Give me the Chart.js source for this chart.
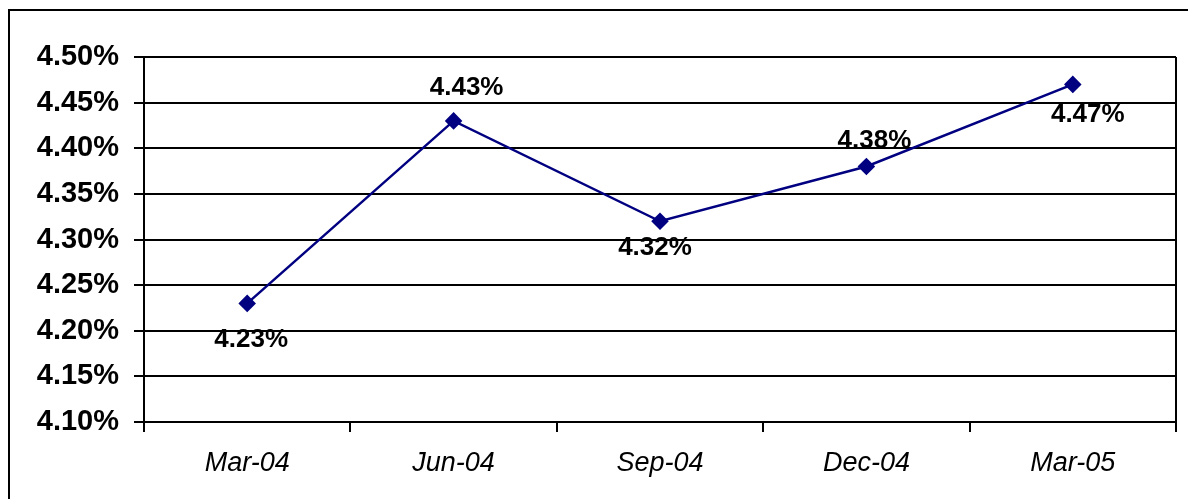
<!DOCTYPE html>
<html>
<head>
<meta charset="utf-8">
<script src="https://cdn.jsdelivr.net/npm/chart.js@4"></script>
<style>
html,body{margin:0;padding:0;background:#fff;}
#wrap{position:relative;width:1188px;height:499px;}
</style>
</head>
<body>
<div id="wrap"><canvas id="c" width="1188" height="499"></canvas></div>
<script>
const categories = ["Mar-04", "Jun-04", "Sep-04", "Dec-04", "Mar-05"];
const rates = [4.23, 4.43, 4.32, 4.38, 4.47];
const dataLabels = ["4.23%", "4.43%", "4.32%", "4.38%", "4.47%"];
const yTicks = [4.10, 4.15, 4.20, 4.25, 4.30, 4.35, 4.40, 4.45, 4.50];

const labelOffsets = [[4, 36], [13, -33], [-5, 27], [8, -26], [15, 30]];

const framePlugin = {
  id: 'frame',
  beforeDraw(chart) {
    const ctx = chart.ctx;
    ctx.save();
    ctx.fillStyle = '#fff';
    ctx.fillRect(0, 0, chart.width, chart.height);
    ctx.strokeStyle = '#000';
    ctx.lineWidth = 2;
    ctx.strokeRect(9, 10, 1300, 600);
    ctx.restore();
  },
  afterDatasetsDraw(chart) {
    const ctx = chart.ctx;
    ctx.save();
    const meta = chart.getDatasetMeta(0);
    ctx.font = 'bold 26px "Liberation Sans", Arial, sans-serif';
    ctx.fillStyle = '#000';
    ctx.textAlign = 'center';
    ctx.textBaseline = 'middle';
    meta.data.forEach((pt, i) => {
      const o = labelOffsets[i];
      ctx.fillText(dataLabels[i], pt.x + o[0], pt.y + o[1]);
    });
    ctx.restore();
  },
  beforeDatasetsDraw(chart) {
    const ctx = chart.ctx;
    const a = chart.chartArea;
    ctx.save();
    ctx.strokeStyle = '#000';
    ctx.lineWidth = 2;
    ctx.beginPath();
    ctx.moveTo(a.right, a.top);
    ctx.lineTo(a.right, a.bottom + 9);
    ctx.stroke();
    ctx.restore();
  }
};

new Chart(document.getElementById('c'), {
  type: 'line',
  data: {
    labels: categories,
    datasets: [{
      data: rates,
      borderColor: '#000080',
      backgroundColor: '#000080',
      borderWidth: 2.5,
      pointStyle: 'rectRot',
      pointRadius: 7,
      pointHoverRadius: 7,
      tension: 0,
      fill: false
    }]
  },
  options: {
    responsive: false,
    animation: false,
    events: [],
    layout: { padding: { left: 0, top: 57, right: 12, bottom: 0 } },
    plugins: { legend: { display: false }, tooltip: { enabled: false } },
    scales: {
      x: {
        offset: true,
        afterFit(s) { s.height = 77; },
        grid: { offset: true, drawOnChartArea: false, drawTicks: true, tickLength: 10, color: '#000', lineWidth: 2 },
        border: { display: true, color: '#000', width: 2 },
        ticks: { color: '#000', padding: 15, maxRotation: 0, font: { family: '"Liberation Sans", Arial, sans-serif', size: 27, style: 'italic' } }
      },
      y: {
        min: 4.10, max: 4.50,
        afterFit(s) { s.width = 144; },
        afterBuildTicks(s) { s.ticks = yTicks.map(v => ({ value: v })); },
        grid: { color: '#000', lineWidth: 2, drawTicks: true, tickLength: 10 },
        border: { display: true, color: '#000', width: 2 },
        ticks: {
          color: '#000', padding: 15,
          font: { family: '"Liberation Sans", Arial, sans-serif', size: 29, weight: 'bold' },
          callback: v => v.toFixed(2) + '%'
        }
      }
    }
  },
  plugins: [framePlugin]
});
</script>
</body>
</html>
